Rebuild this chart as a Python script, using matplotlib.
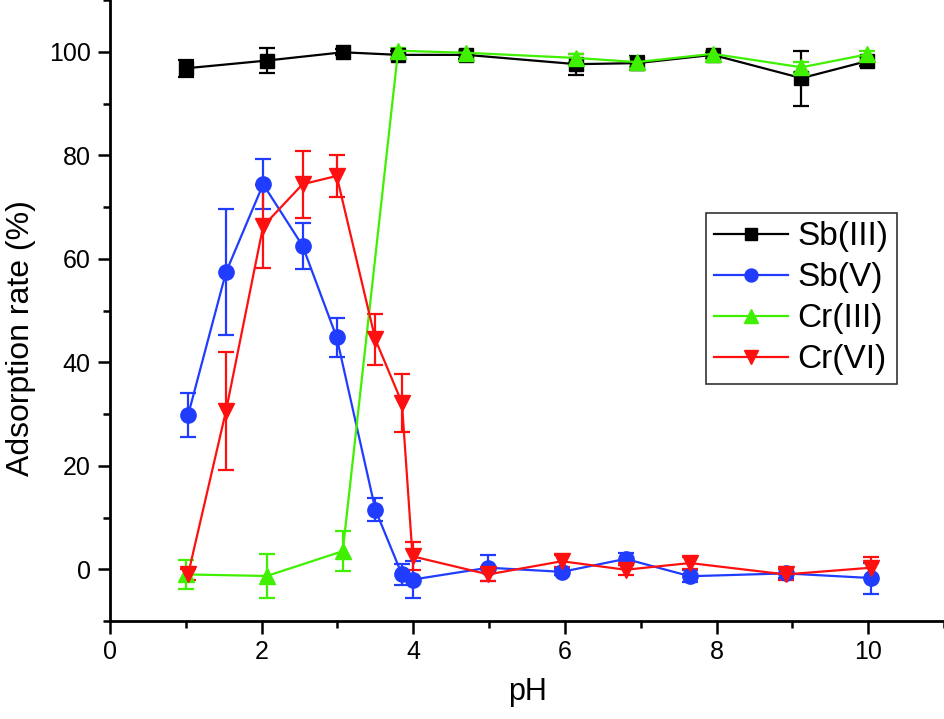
import numpy as np
import matplotlib
matplotlib.use('Agg')
import matplotlib.pyplot as plt
from matplotlib.ticker import MultipleLocator
from matplotlib.lines import Line2D

plt.rcParams['font.family'] = ['Liberation Sans', 'DejaVu Sans']

# Sb(III) and Cr(III) share the same pH points
ph_a = [1.0, 2.07, 3.07, 3.8, 4.7, 6.15, 6.95, 7.95, 9.12, 9.99]
sb3 = [96.8, 98.3, 99.9, 99.4, 99.4, 97.6, 97.8, 99.4, 94.9, 98.2]
sb3_err = [1.6, 2.4, 0.6, 0.8, 0.8, 2.0, 1.3, 0.6, 5.3, 1.0]
cr3 = [-1.0, -1.3, 3.5, 100.2, 99.8, 98.8, 98.0, 99.6, 97.0, 99.5]
cr3_err = [2.8, 4.3, 3.9, 0.6, 0.6, 0.8, 1.0, 0.6, 1.0, 0.6]

# Sb(V) and Cr(VI)
ph_b = [1.03, 1.53, 2.02, 2.54, 2.99, 3.5, 3.85, 3.99, 4.99, 5.96, 6.8, 7.65, 8.91, 10.04]
sb5 = [29.8, 57.4, 74.4, 62.5, 44.8, 11.5, -1.0, -2.0, 0.3, -0.5, 2.0, -1.35, -0.8, -1.7]
sb5_err = [4.3, 12.2, 4.8, 4.5, 3.7, 2.2, 2.0, 3.6, 2.5, 0.6, 1.2, 1.2, 0.8, 3.0]
cr6 = [-1.0, 30.6, 66.3, 74.4, 76.0, 44.4, 32.2, 2.5, -1.0, 1.55, -0.1, 1.2, -1.0, 0.3]
cr6_err = [1.0, 11.4, 8.0, 6.5, 4.0, 5.0, 5.6, 2.7, 1.2, 1.2, 1.0, 1.2, 1.0, 2.0]

names = ['Sb(III)', 'Sb(V)', 'Cr(III)', 'Cr(VI)']
colors = ['black', '#1f3cff', '#3ff000', '#ff1010']
markers = ['s', 'o', '^', 'v']
sizes = [10, 11, 12, 12]

fig = plt.figure(figsize=(9.45, 7.19), dpi=100)
ax = fig.add_axes([110 / 945, 98 / 719, 834 / 945, 621 / 719])

kw = dict(lw=1.6, elinewidth=1.6, capsize=6, capthick=1.6)
series = [(ph_a, sb3, sb3_err), (ph_b, sb5, sb5_err), (ph_a, cr3, cr3_err), (ph_b, cr6, cr6_err)]
for (x, y, e), c, m, s in zip(series, colors, markers, sizes):
    ax.errorbar(x, y, yerr=e, color=c, marker=m, ms=s, **kw)

ax.set_xlim(0, 11)
ax.set_ylim(-10, 110)
ax.xaxis.set_major_locator(MultipleLocator(2))
ax.xaxis.set_minor_locator(MultipleLocator(1))
ax.set_yticks([0, 20, 40, 60, 80, 100])
ax.yaxis.set_minor_locator(MultipleLocator(10))
ax.tick_params(which='major', direction='out', length=9, width=1.8, labelsize=18, pad=5)
ax.tick_params(which='minor', direction='out', length=5, width=1.8)
ax.spines['top'].set_visible(False)
ax.spines['right'].set_visible(False)
ax.spines['left'].set_linewidth(2)
ax.spines['bottom'].set_linewidth(2)

ax.set_xlabel('pH', fontsize=22)
ax.xaxis.set_label_coords((528 - 110) / 834, -56 / 621)
ax.set_ylabel('Adsorption rate (%)', fontsize=23)
ax.yaxis.set_label_coords(-74 / 834, (621 - 338) / 621)

handles = [Line2D([], [], color=c, marker=m, ms=s * 0.85, lw=1.6)
           for c, m, s in zip(colors, markers, sizes)]
leg = ax.legend(handles, names, loc='upper left', bbox_to_anchor=(596 / 834, 1 - 213 / 621),
                fontsize=24, frameon=True, fancybox=False, edgecolor='black', borderpad=0.25,
                labelspacing=0.3, handlelength=2.2, handletextpad=0.3, borderaxespad=0)
leg.get_frame().set_linewidth(1.2)

plt.savefig('out.png', dpi=100)
